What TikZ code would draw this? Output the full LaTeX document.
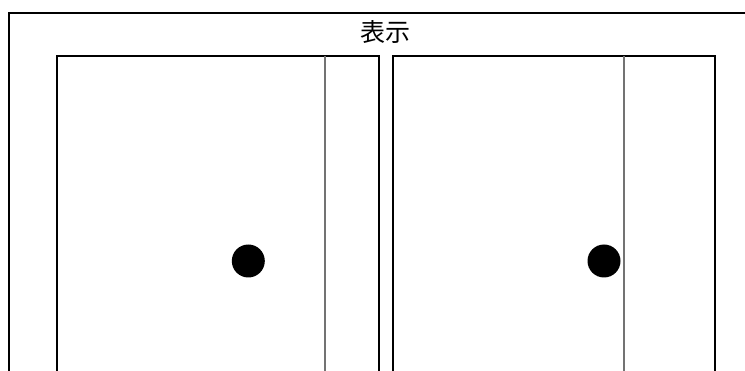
\documentclass[tikz,border=0pt]{standalone}
\usepackage{fontspec}
\newfontfamily\cjk{Noto Sans CJK JP}
\begin{document}
\begin{tikzpicture}[x=1pt,y=-1pt,
  outerframe/.style={draw=black,line width=2.2pt},
  panel/.style={draw=black,line width=1.8pt},
  divider/.style={draw=black!55,line width=1.1pt},
  knob/.style={circle,fill=black,inner sep=0pt,minimum size=33pt}]
\useasboundingbox (0,0) rectangle (745,371);
\begin{scope}
\clip (0,0) rectangle (745,371);
% outer frame (extends beyond the picture on right and bottom)
\draw[outerframe] (9,390) -- (9,13) -- (760,13);
% left panel
\draw[panel] (57,390) -- (57,56) -- (379,56) -- (379,390);
\draw[divider] (325,56) -- (325,390);
% right panel
\draw[panel] (393,390) -- (393,56) -- (715,56) -- (715,390);
\draw[divider] (624,56) -- (624,390);
\end{scope}
\node[font=\cjk\fontsize{25}{28}\selectfont,inner sep=0pt] (title) at (385,32.5) {表示};
\node[knob] (knobL) at (248.3,261) {};
\node[knob] (knobR) at (604,261) {};
\end{tikzpicture}
\end{document}
